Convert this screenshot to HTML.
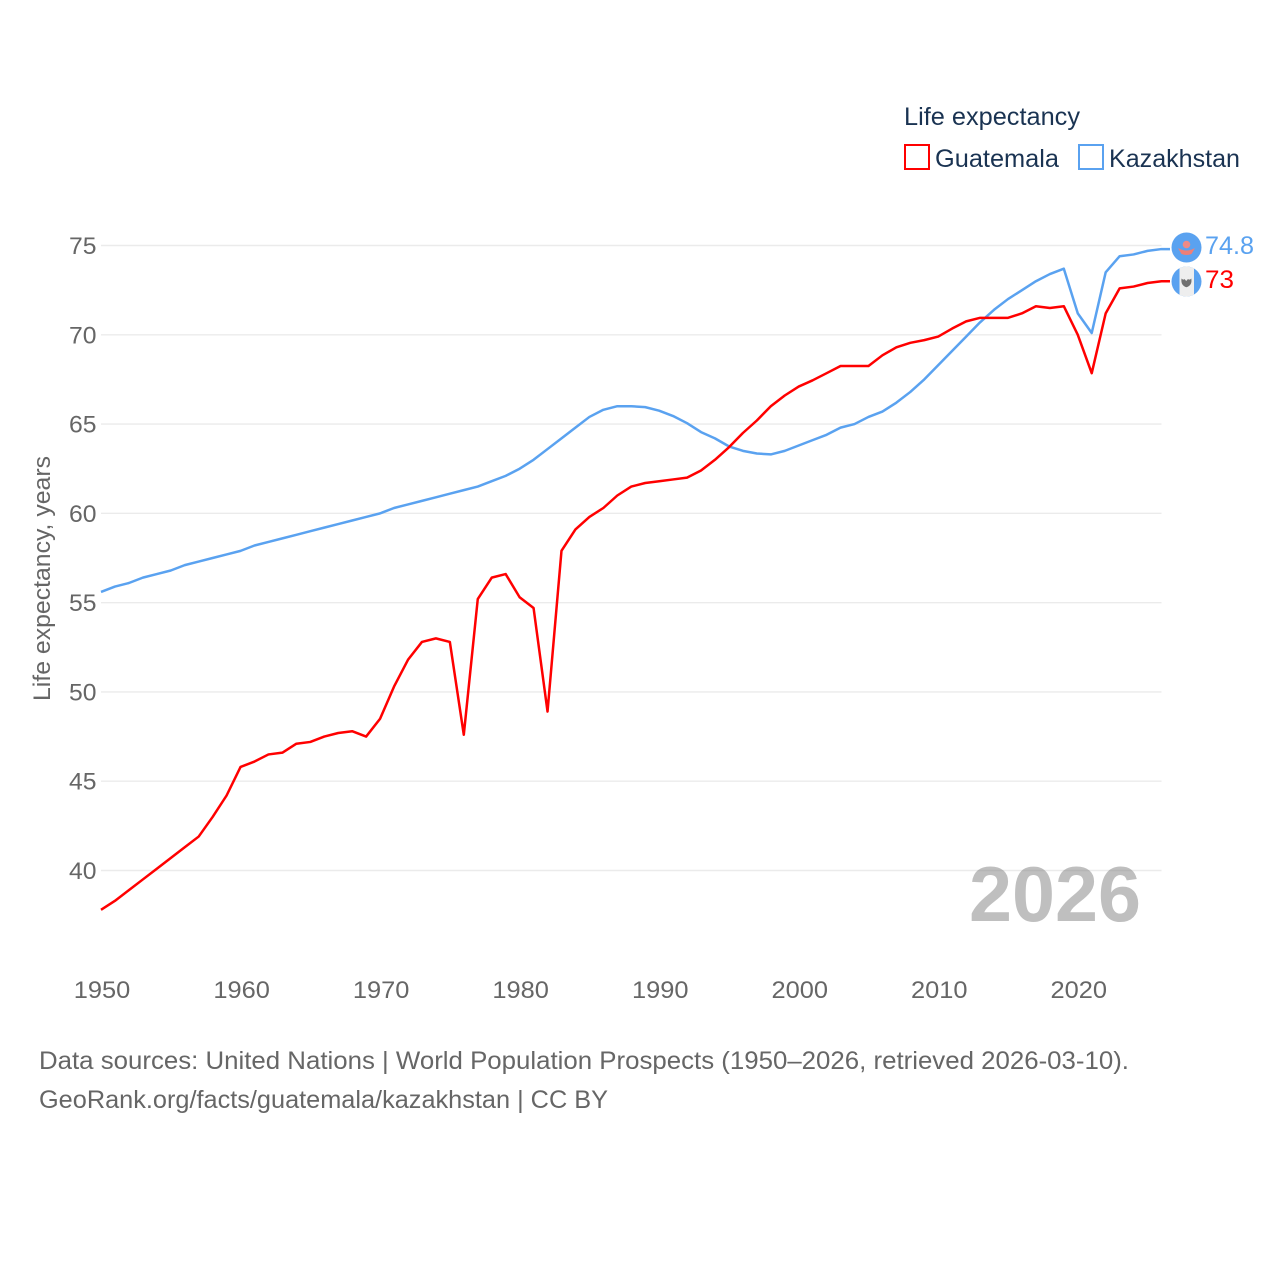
<!DOCTYPE html>
<html lang="en">
<head>
<meta charset="utf-8">
<title>Life expectancy: Guatemala and Kazakhstan</title>
<style>
html,body{margin:0;padding:0;background:#fff}
svg{display:block}
text{font-family:"Liberation Sans",sans-serif}
</style>
</head>
<body>
<svg id="chart" width="1280" height="1280" viewBox="0 0 1280 1280" xmlns="http://www.w3.org/2000/svg">
  <rect width="1280" height="1280" fill="#fff"/>
  <g id="grid"></g>
  <g id="yticks"></g>
  <g id="xticks"></g>
  <text transform="translate(50,701) rotate(-90)" font-size="24" fill="#666" textLength="245" lengthAdjust="spacingAndGlyphs">Life expectancy, years</text>

  <g id="series"></g>

  <text x="969" y="921" font-size="78" font-weight="700" fill="#808080" fill-opacity="0.5" textLength="172" lengthAdjust="spacingAndGlyphs">2026</text>

  <g>
    <text x="904" y="125" font-size="25" fill="#1a3352" textLength="176" lengthAdjust="spacingAndGlyphs">Life expectancy</text>
    <g>
      <rect x="905" y="145" width="24" height="24" fill="none" stroke="#ff0000" stroke-width="2"/>
      <text x="935" y="167" font-size="25" fill="#1a3352" textLength="124" lengthAdjust="spacingAndGlyphs">Guatemala</text>
    </g>
    <g>
      <rect x="1079" y="145" width="24" height="24" fill="none" stroke="#5aa2f0" stroke-width="2"/>
      <text x="1109" y="167" font-size="25" fill="#1a3352" textLength="131" lengthAdjust="spacingAndGlyphs">Kazakhstan</text>
    </g>
  </g>

  <g>
    <circle cx="1186.5" cy="247.5" r="15" fill="#5aa2f0"/>
    <circle cx="1186.5" cy="244.5" r="3.8" fill="#ee8a86"/>
    <path d="M1178 248 Q1186.5 253 1195 248 L1191.5 254 Q1186.5 256 1181.5 254 Z" fill="#ee7f78"/>
  </g>
  <g>
    <clipPath id="gt-clip"><circle cx="1186.5" cy="281.5" r="15"/></clipPath>
    <circle cx="1186.5" cy="281.5" r="15" fill="#5aa2f0"/>
    <rect x="1179.5" y="266" width="14.5" height="31" fill="#eeeeee" clip-path="url(#gt-clip)"/>
    <path d="M1181.5 278.5 Q1183.5 280.5 1184.5 279 L1186.2 281 L1188 279 Q1189.5 280.5 1191.3 278.5 Q1192.5 285.5 1186.4 287.2 Q1180.5 285.5 1181.5 278.5 Z" fill="#707070"/>
  </g>

  <text x="1205" y="254" font-size="25" fill="#5aa2f0" textLength="49" lengthAdjust="spacingAndGlyphs">74.8</text>
  <text x="1205" y="288" font-size="25" fill="#ff0000" textLength="29" lengthAdjust="spacingAndGlyphs">73</text>

  <text x="39" y="1069" font-size="25" fill="#666" textLength="1090" lengthAdjust="spacingAndGlyphs">Data sources: United Nations | World Population Prospects (1950–2026, retrieved 2026-03-10).</text>
  <text x="39" y="1108" font-size="25" fill="#666" textLength="569" lengthAdjust="spacingAndGlyphs">GeoRank.org/facts/guatemala/kazakhstan | CC BY</text>
</svg>
<script>
const years = [];
for (let y = 1950; y <= 2026; y++) years.push(y);
const guatemala = [37.8,38.3,38.9,39.5,40.1,40.7,41.3,41.9,43.0,44.2,45.8,46.1,46.5,46.6,47.1,47.2,47.5,47.7,47.8,47.5,48.5,50.3,51.8,52.8,53.0,52.8,47.6,55.2,56.4,56.6,55.3,54.7,48.9,57.9,59.1,59.8,60.3,61.0,61.5,61.7,61.8,61.9,62.0,62.4,63.0,63.7,64.5,65.2,66.0,66.6,67.1,67.45,67.85,68.25,68.25,68.25,68.85,69.3,69.55,69.7,69.9,70.35,70.75,70.95,70.95,70.95,71.2,71.6,71.5,71.6,70.0,67.85,71.2,72.6,72.7,72.9,73.0];
const kazakhstan = [55.6,55.9,56.1,56.4,56.6,56.8,57.1,57.3,57.5,57.7,57.9,58.2,58.4,58.6,58.8,59.0,59.2,59.4,59.6,59.8,60.0,60.3,60.5,60.7,60.9,61.1,61.3,61.5,61.8,62.1,62.5,63.0,63.6,64.2,64.8,65.4,65.8,66.0,66.0,65.95,65.75,65.45,65.05,64.55,64.2,63.75,63.5,63.35,63.3,63.5,63.8,64.1,64.4,64.8,65.0,65.4,65.7,66.2,66.8,67.5,68.3,69.1,69.9,70.7,71.4,72.0,72.5,73.0,73.4,73.7,71.2,70.1,73.5,74.4,74.5,74.7,74.8];
const yTickValues = [40,45,50,55,60,65,70,75];
const xTickValues = [1950,1960,1970,1980,1990,2000,2010,2020];

const NS = 'http://www.w3.org/2000/svg';
function xScale(v){ return 101 + (v - 1950) * (1161.5 - 101) / (2026 - 1950); }
function yScale(v){ return 870.5 - (v - 40) * (870.5 - 245.5) / (75 - 40); }
function make(tag){ return document.createElementNS(NS, tag); }

const grid = document.getElementById('grid');
const yG = document.getElementById('yticks');
yTickValues.forEach(function(v){
  const line = make('line');
  
  
  line.setAttribute('x1', xScale(1950));
  line.setAttribute('x2', xScale(2026));
  line.setAttribute('y1', yScale(v));
  line.setAttribute('y2', yScale(v));
  line.setAttribute('stroke', '#ebebeb');
  line.setAttribute('stroke-width', '1.4');
  grid.appendChild(line);
  const t = make('text');
  
  
  t.setAttribute('x', 69);
  t.setAttribute('y', yScale(v) + 8.5);
  t.setAttribute('font-size', '24');
  t.setAttribute('fill', '#666');
  t.setAttribute('textLength', '27.5');
  t.setAttribute('lengthAdjust', 'spacingAndGlyphs');
  t.textContent = String(v);
  yG.appendChild(t);
});

const xG = document.getElementById('xticks');
xTickValues.forEach(function(v){
  const t = make('text');
  
  
  t.setAttribute('x', xScale(v) - 27.2);
  t.setAttribute('y', 998);
  t.setAttribute('font-size', '24');
  t.setAttribute('fill', '#666');
  t.setAttribute('textLength', '56.5');
  t.setAttribute('lengthAdjust', 'spacingAndGlyphs');
  t.textContent = String(v);
  xG.appendChild(t);
});

function pathFor(values, extendTo){
  let d = values.map(function(v, i){
    return (i ? 'L' : 'M') + xScale(years[i]).toFixed(2) + ' ' + yScale(v).toFixed(2);
  }).join(' ');
  d += ' L' + extendTo + ' ' + yScale(values[values.length - 1]).toFixed(2);
  return d;
}
const seriesG = document.getElementById('series');

const kzLine = make('path');


kzLine.setAttribute('d', pathFor(kazakhstan, 1170));
kzLine.setAttribute('fill', 'none');
kzLine.setAttribute('stroke', '#5aa2f0');
kzLine.setAttribute('stroke-width', '2.5');
kzLine.setAttribute('stroke-linejoin', 'round');
seriesG.appendChild(kzLine);

const gtLine = make('path');


gtLine.setAttribute('d', pathFor(guatemala, 1170));
gtLine.setAttribute('fill', 'none');
gtLine.setAttribute('stroke', '#ff0000');
gtLine.setAttribute('stroke-width', '2.5');
gtLine.setAttribute('stroke-linejoin', 'round');
seriesG.appendChild(gtLine);
</script>
</body>
</html>
